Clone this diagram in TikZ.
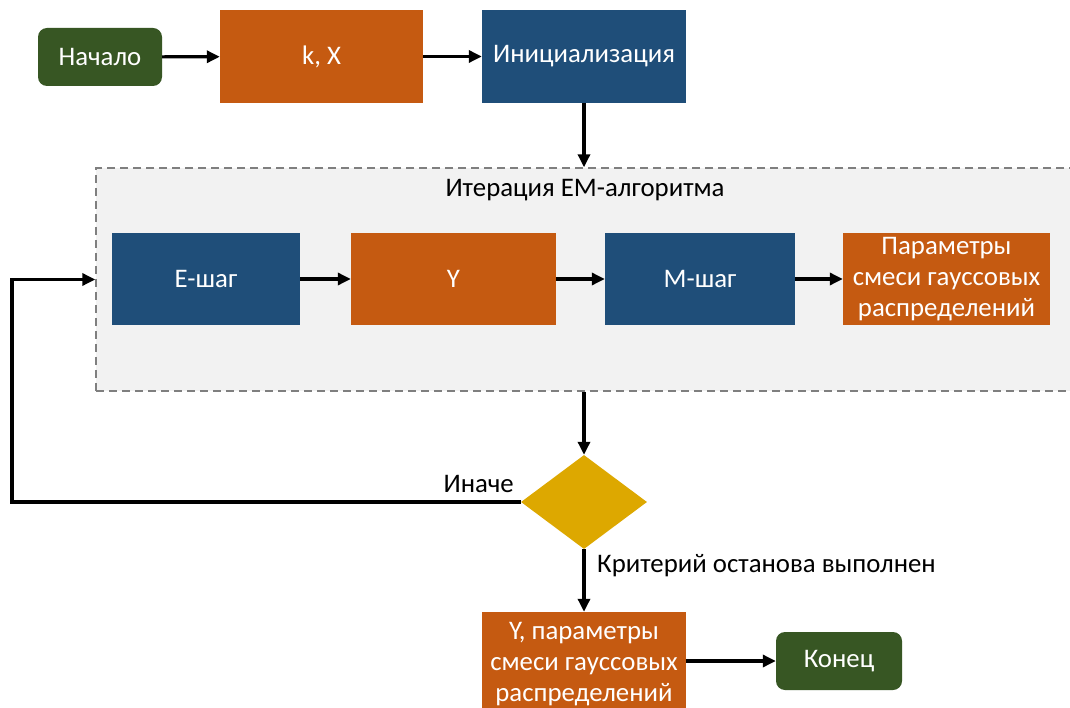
\documentclass[tikz,border=0pt]{standalone}
\usepackage{fontspec}
\setmainfont{Carlito}
\usetikzlibrary{shapes.geometric,arrows.meta}
\definecolor{cgreen}{HTML}{375623}
\definecolor{corange}{HTML}{C55A11}
\definecolor{cblue}{HTML}{1F4E79}
\definecolor{cgold}{HTML}{DDA800}
\definecolor{cgrayfill}{HTML}{F2F2F2}
\definecolor{cgrayline}{HTML}{7F7F7F}
\tikzset{
  base/.style={inner sep=0pt, align=center, text=white, font=\fontsize{26.8}{31}\selectfont},
  startbox/.style={base, fill=cgreen, rounded corners=9pt},
  orangebox/.style={base, fill=corange},
  bluebox/.style={base, fill=cblue},
  decbox/.style={shape=diamond, fill=cgold, inner sep=0pt, shape aspect=1.34},
  conn/.style={line width=3.2pt, -{Triangle[length=13pt,width=12pt]}},
  lbl/.style={font=\fontsize{26.8}{31}\selectfont, text=black, inner sep=0pt},
}
\begin{document}
\begin{tikzpicture}[x=1pt,y=-1pt]
\useasboundingbox (0,0) rectangle (1070,708);
\fill[white] (0,0) rectangle (1070,708);
% iteration container
\node[draw=cgrayline, fill=cgrayfill, dashed, line width=1.4pt, dash pattern=on 8pt off 5pt,
      minimum width=990pt, minimum height=223pt, inner sep=0pt] (iter) at (591,279.5) {};
\node[lbl] (itertitle) at (585,190) {Итерация EM-алгоритма};

\node[startbox, minimum width=124pt, minimum height=58pt] (start) at (100,57) {Начало};
\node[orangebox, minimum width=203pt, minimum height=93pt] (kx) at (321.5,56.5) {k, X};
\node[bluebox, minimum width=204pt, minimum height=93pt] (init) at (584,56.5) {Инициализация};

\node[bluebox, minimum width=188pt, minimum height=92pt] (estep) at (206,279) {E-шаг};
\node[orangebox, minimum width=205pt, minimum height=92pt] (y) at (453.5,279) {Y};
\node[bluebox, minimum width=190pt, minimum height=92pt] (mstep) at (700,279) {M-шаг};
\node[orangebox, minimum width=207pt, minimum height=92pt] (params) at (946.5,279) {Параметры\\смеси гауссовых\\распределений};

\node[decbox, minimum width=126pt, minimum height=94pt] (dec) at (584,502) {};

\node[orangebox, minimum width=204pt, minimum height=104pt] (result) at (584,664) {Y, параметры\\смеси гауссовых\\распределений};
\node[startbox, minimum width=126pt, minimum height=58pt] (finish) at (839,661) {Конец};

\node[lbl, anchor=east] (otherwise) at (514,484) {Иначе};
\node[lbl, anchor=west] (crit) at (597,566) {Критерий останова выполнен};

\coordinate (loopc) at (12,502);

\draw[conn] (start) -- (kx);
\draw[conn] (kx) -- (init);
\draw[conn] (init.south) -- (init.south |- iter.north);
\draw[conn] (estep) -- (y);
\draw[conn] (y) -- (mstep);
\draw[conn] (mstep) -- (params);
\draw[conn] (dec.south |- iter.south) -- (dec.north);
\draw[conn] (dec.south) -- (result.north);
\draw[conn] (result.east |- finish.west) -- (finish.west);
\draw[conn] (dec.west) -- (loopc) |- (iter.west);
\end{tikzpicture}
\end{document}
